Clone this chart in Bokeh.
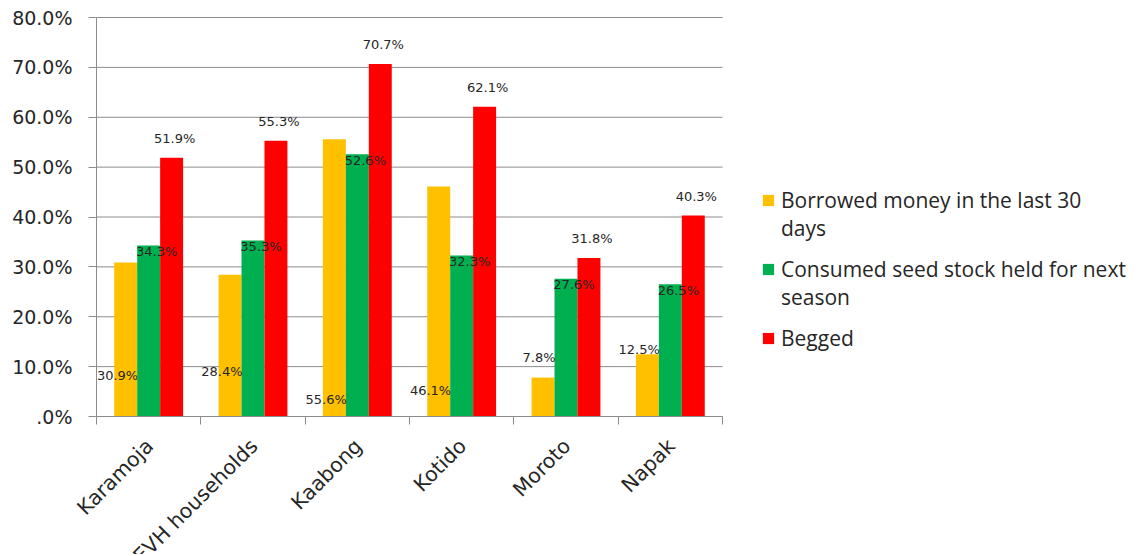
import math
from bokeh.plotting import figure
from bokeh.models import FixedTicker, Legend, LegendItem, ColumnDataSource, Range1d
from bokeh.core.properties import value
from bokeh.embed import file_html
from bokeh.resources import INLINE

# ---------------- data ----------------
categories = ["Karamoja", "EVH households", "Kaabong", "Kotido", "Moroto", "Napak"]
borrowed = [30.9, 28.4, 55.6, 46.1, 7.8, 12.5]
seed = [34.3, 35.3, 52.6, 32.3, 27.6, 26.5]
begged = [51.9, 55.3, 70.7, 62.1, 31.8, 40.3]
series_names = ["Borrowed money in the last 30", "Consumed seed stock held for next", "Begged"]
series_names_cont = ["days", "season"]          # wrapped second lines of the legend labels
y_ticks = [0, 10, 20, 30, 40, 50, 60, 70, 80]
y_tick_labels = [".0%", "10.0%", "20.0%", "30.0%", "40.0%", "50.0%", "60.0%", "70.0%", "80.0%"]
# where the (misplaced) yellow data labels sit in the original, in axis units
borrowed_label_pos = [8.2, 9.0, 3.4, 5.2, 11.8, 13.4]

# ---------------- layout / style ----------------
W, H = 1136, 554
plot_left, plot_right, plot_top, plot_bottom = 96, 722, 17, 416   # pixel box of the chart area
legend_x, legend_line_h, legend_item_step = 761, 28.6, 70
legend_first_center = 198
colors = ["#FFC000", "#00B050", "#FF0000"]
grid_col = "#8c8c8c"
txt_col = "#262626"
bar_w = 0.22
n = len(categories)
y_max = y_ticks[-1]
centers = [i + 0.5 for i in range(n)]

kx = (plot_right - plot_left) / n
ky = (plot_bottom - plot_top) / y_max
x_range = Range1d(-plot_left / kx, (W - plot_left) / kx)
y_range = Range1d(-(H - plot_bottom) / ky, y_max + plot_top / ky)

p = figure(width=W, height=H, x_range=x_range, y_range=y_range,
           output_backend="svg", toolbar_location=None,
           min_border_left=0, min_border_right=0, min_border_top=0, min_border_bottom=0)
p.outline_line_color = None
p.background_fill_color = "white"
p.border_fill_color = "white"
p.xgrid.visible = False
p.ygrid.visible = False

# horizontal gridlines across the category area only
p.segment(x0=[0] * len(y_ticks), x1=[n] * len(y_ticks), y0=y_ticks, y1=y_ticks,
          line_color=grid_col, line_width=1)

# y axis, pinned at x = 0
yax = p.yaxis[0]
yax.fixed_location = 0
yax.bounds = (0, y_max)
yax.ticker = FixedTicker(ticks=y_ticks, minor_ticks=[])
yax.major_label_overrides = {t: l for t, l in zip(y_ticks, y_tick_labels)}
yax.axis_line_color = grid_col
yax.major_tick_line_color = grid_col
yax.major_tick_out = 8
yax.major_tick_in = 0
yax.minor_tick_out = 0
yax.minor_tick_in = 0
yax.major_label_standoff = 16
yax.major_label_text_font = "DejaVu Sans"
yax.major_label_text_font_size = "19px"
yax.major_label_text_color = txt_col

# x axis pinned at y = 0, ticks on category boundaries
xax = p.xaxis[0]
xax.fixed_location = 0
xax.bounds = (0, n)
xax.ticker = FixedTicker(ticks=list(range(n + 1)), minor_ticks=[])
xax.axis_line_color = grid_col
xax.major_tick_line_color = grid_col
xax.major_tick_out = 8
xax.major_tick_in = 0
xax.minor_tick_out = 0
xax.minor_tick_in = 0
xax.major_label_text_font_size = "0px"
xax.major_label_text_alpha = 0

# bars
series = [borrowed, seed, begged]
offsets = [-bar_w, 0.0, bar_w]
renderers = []
for vals, off, col in zip(series, offsets, colors):
    src = ColumnDataSource(dict(x=[c + off for c in centers], top=vals))
    r = p.vbar(x="x", top="top", width=bar_w, bottom=0, source=src,
               fill_color=col, line_color=None)
    renderers.append(r)

lab_font = value("DejaVu Sans")
# red labels above bars
p.text(x=[c + bar_w for c in centers], y=begged, text=[f"{v:.1f}%" for v in begged],
       text_font=lab_font, text_font_size="13px", text_color=txt_col,
       text_align="center", text_baseline="middle", x_offset=3, y_offset=-19)
# green labels at bar top
p.text(x=centers, y=seed, text=[f"{v:.1f}%" for v in seed],
       text_font=lab_font, text_font_size="13px", text_color=txt_col,
       text_align="center", text_baseline="middle", x_offset=8, y_offset=6)
# yellow labels
p.text(x=[c - bar_w / 2 for c in centers], y=borrowed_label_pos,
       text=[f"{v:.1f}%" for v in borrowed],
       text_font=lab_font, text_font_size="13px", text_color=txt_col,
       text_align="right", text_baseline="middle", x_offset=1)

# rotated category labels under the axis
p.text(x=centers, y=[0] * n, text=categories, angle=math.pi / 4,
       text_font=lab_font, text_font_size="20.5px", text_color=txt_col,
       text_align="right", text_baseline="middle", x_offset=1, y_offset=26)


def style_legend(lg):
    lg.padding = 0
    lg.margin = 0
    lg.border_line_color = None
    lg.background_fill_alpha = 0
    lg.glyph_width = 14
    lg.glyph_height = 14
    lg.label_standoff = 6
    lg.spacing = int(round(legend_item_step - legend_line_h))
    lg.label_text_font = "Open Sans"
    lg.label_text_font_size = "21px"
    lg.label_text_color = txt_col


# main legend: swatch + first line of each label
bottom_a = legend_first_center + 2 * legend_item_step + legend_line_h / 2
leg_a = Legend(items=[LegendItem(label=series_names[i], renderers=[renderers[i]])
                      for i in range(3)],
               location=(legend_x, H - bottom_a))
style_legend(leg_a)
p.add_layout(leg_a, "center")

# continuation lines (invisible swatches)
dummies = [p.vbar(x=[], top=[], width=bar_w, fill_alpha=0, line_alpha=0) for _ in series_names_cont]
bottom_b = legend_first_center + legend_line_h + legend_item_step + legend_line_h / 2
leg_b = Legend(items=[LegendItem(label=t, renderers=[d]) for t, d in zip(series_names_cont, dummies)],
               location=(legend_x, H - bottom_b))
style_legend(leg_b)
p.add_layout(leg_b, "center")

open("out.html", "w").write(file_html(p, INLINE))
